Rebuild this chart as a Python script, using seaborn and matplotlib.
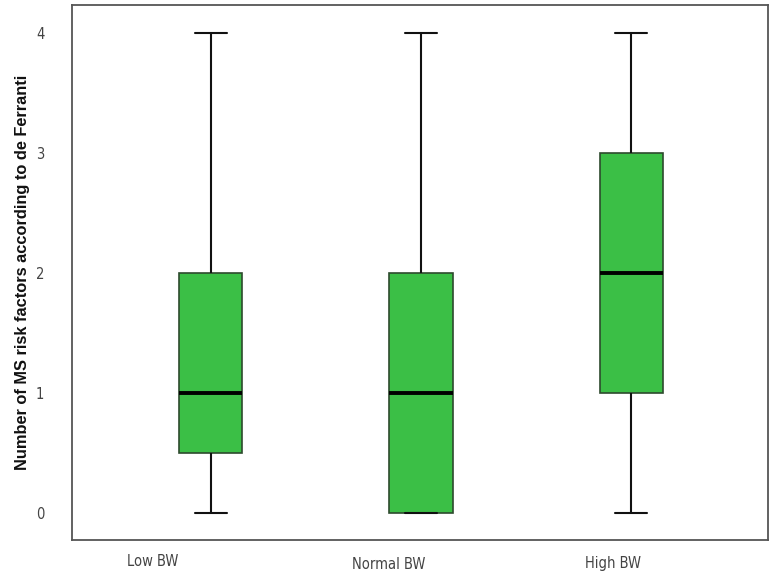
import matplotlib
matplotlib.use("Agg")
import matplotlib.pyplot as plt
import matplotlib.transforms as mtransforms
from matplotlib import font_manager
import pandas as pd
import seaborn as sns

# five-number summaries
groups = ["Low BW", "Normal BW", "High BW"]
mins = [0, 0, 0]
q1s = [0.5, 0, 1]
medians = [1, 1, 2]
q3s = [2, 2, 3]
maxs = [4, 4, 4]

rows = []
for g, a, b, c, d, e in zip(groups, mins, q1s, medians, q3s, maxs):
    for v in (a, b, c, d, e):
        rows.append({"group": g, "value": v})
df = pd.DataFrame(rows)


def find_narrow():
    # regular upright narrow font, Liberation Sans Narrow first
    found = []
    for f in font_manager.fontManager.ttflist:
        is_narrow = ("Narrow" in f.name or "Condensed" in f.name
                     or f.stretch in ("condensed", "semi-condensed"))
        w = f.weight if isinstance(f.weight, int) else (700 if "bold" in str(f.weight) else 400)
        if is_narrow and f.style == "normal" and w < 600:
            found.append(f)
    found.sort(key=lambda f: 0 if "Liberation" in f.name else 1)
    return found[0] if found else None


narrow = find_narrow()

sns.set_style("white")
plt.rcParams["font.family"] = ["Liberation Sans", "DejaVu Sans"]

fig = plt.figure(figsize=(7.71, 5.72), dpi=100)
ax = fig.add_axes([0.0934, 0.0559, 0.9026, 0.9354])

sns.boxplot(data=df, x="group", y="value", order=groups, whis=(0, 100),
            width=0.3, color="#3bbf46", linecolor="black", linewidth=1.5,
            saturation=1, ax=ax,
            boxprops=dict(edgecolor="#2d4a2d", linewidth=1.2),
            medianprops=dict(color="black", linewidth=2.8),
            whiskerprops=dict(color="#111111", linewidth=1.5),
            capprops=dict(color="#111111", linewidth=1.5))

ax.set_xlim(-0.66, 2.65)
ax.set_ylim(-0.225, 4.23)
ax.set_yticks([0, 1, 2, 3, 4])
ax.set_xlabel("")
ax.set_ylabel("Number of MS risk factors according to de Ferranti",
              fontsize=11.8, fontweight="bold", labelpad=4, color="#111111")

for s in ax.spines.values():
    s.set_color("#555555")
    s.set_linewidth(1.3)

ax.tick_params(axis="both", direction="out", length=8, width=1.2,
               color="#555555", labelcolor="#444444", labelsize=10)
ax.tick_params(axis="y", pad=12)
ax.tick_params(axis="x", pad=6)

labels = ax.get_xticklabels() + ax.get_yticklabels()
for lab in labels:
    if narrow is not None:
        lab.set_fontproperties(font_manager.FontProperties(fname=narrow.fname, size=10.5))
    else:
        lab.set_fontsize(8.5)

# staggered, left-shifted x labels like the original
shifts = [(-58, 5), (-32, 2), (-18, 3)]
for lab, (dx, dy) in zip(ax.get_xticklabels(), shifts):
    off = mtransforms.ScaledTranslation(dx / 100, dy / 100, fig.dpi_scale_trans)
    lab.set_transform(lab.get_transform() + off)

fig.savefig("out.png", dpi=100)
